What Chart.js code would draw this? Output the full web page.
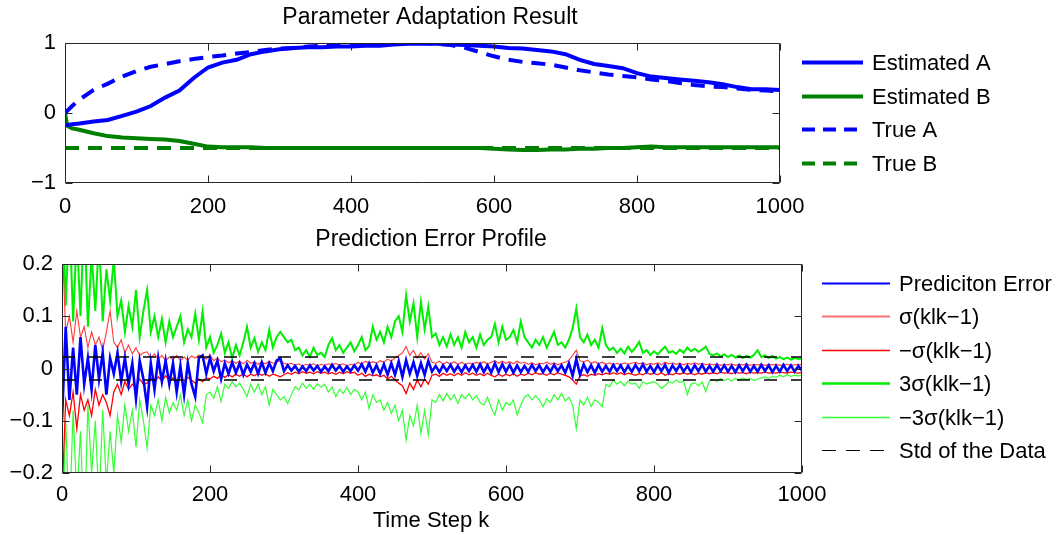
<!DOCTYPE html>
<html>
<head>
<meta charset="utf-8">
<script src="https://cdn.jsdelivr.net/npm/chart.js@4.4.1/dist/chart.umd.min.js"></script>
<style>
  html, body { margin: 0; padding: 0; background: #fff; }
  #wrap { position: relative; width: 1061px; height: 535px; overflow: hidden; }
  canvas { position: absolute; left: 0; }
  #paramChart { top: 0; }
  #errChart { top: 220px; }
</style>
</head>
<body>
<div id="wrap">
  <canvas id="paramChart" width="1061" height="220"></canvas>
  <canvas id="errChart" width="1061" height="315"></canvas>
</div>
<script>
// ---- top panel: parameter estimates vs truth ----
const topSteps = [0, 3, 10, 20, 40, 60, 80, 100, 120, 140, 160, 180, 200, 220, 240, 260, 280, 300, 320, 340,
  360, 380, 400, 420, 440, 460, 480, 500, 520, 540, 560, 580, 600, 620, 640, 660, 680, 700, 720, 740,
  760, 780, 800, 820, 840, 860, 880, 900, 920, 940, 960, 980, 1000];
const estA = [-.17, -.17, -.16, -.15, -.12, -.1, -.04, .02, .1, .22, .32, .5, .65, .72, .76, .84, .88, .91, .93, .94,
  .94, .95, .95, .96, .96, .98, .99, .99, .99, .98, .97, .96, .95, .93, .92, .9, .88, .84, .76, .7,
  .67, .64, .57, .52, .5, .48, .46, .44, .41, .37, .34, .34, .33];
const trueA = [0, .03, .1, .19, .33, .42, .52, .6, .66, .7, .74, .77, .8, .82, .85, .87, .9, .92, .93, .95,
  .96, .97, .97, .98, .99, .99, 1, 1, .99, .97, .93, .87, .81, .76, .73, .71, .69, .65, .61, .58,
  .55, .53, .51, .48, .46, .43, .4, .38, .37, .35, .33, .32, .31];
const estB = [0, -.18, -.22, -.24, -.29, -.33, -.35, -.36, -.37, -.38, -.4, -.44, -.48, -.49, -.49, -.49, -.5, -.5, -.5, -.5,
  -.5, -.5, -.5, -.5, -.5, -.5, -.5, -.5, -.5, -.5, -.5, -.5, -.51, -.52, -.53, -.53, -.52, -.52, -.51, -.51,
  -.5, -.5, -.49, -.48, -.49, -.49, -.49, -.49, -.49, -.49, -.49, -.49, -.49];
const trueBSteps = [0, 1000];
const trueB = [-.5, -.5];

// ---- bottom panel: prediction error and its bounds, one value every 5 steps ----
const errSteps = Array.from({ length: 201 }, (_, i) => i * 5);
const predErr = [
  -.1, .08, -.06, .04, -.05, .06, -.03, .02, -.04, .045,
  -.02, .03, -.05, .02, -.01, .03, -.025, .02, -.03, .01,
  -.058, .015, -.02, -.073, .01, -.04, .02, -.025, .015, -.03,
  .01, -.045, .005, -.05, .01, -.03, -.054, .02, .025, -.01,
  .02, -.005, .015, -.02, .01, -.01, .012, -.008, .01, -.012,
  .008, -.006, .01, -.01, .012, -.008, .01, -.005, .015, .02,
  -.005, .006, -.004, .005, -.006, .004, -.005, .006, -.004, .005,
  -.006, .004, -.005, .007, -.004, .005, -.006, .004, -.005, .006,
  -.004, .008, -.006, .01, -.008, .006, -.01, .008, -.012, .01,
  -.012, .014, -.016, .016, -.01, .012, -.014, .01, -.012, .015,
  -.006, .005, -.007, .006, -.005, .007, -.006, .005, -.007, .006,
  -.005, .007, -.006, .008, -.007, .006, -.008, .01, -.007, .008,
  -.006, .007, -.008, .006, -.007, .005, -.006, .007, -.005, .006,
  -.007, .005, -.006, .007, -.005, .006, -.008, .01, -.014, .018,
  -.012, .008, -.007, .006, -.008, .007, -.006, .005, -.006, .007,
  -.005, .006, -.007, .005, -.006, .007, -.005, .008, -.006, .005,
  -.007, .006, -.005, .007, -.008, .006, -.005, .007, -.006, .005,
  -.007, .006, -.005, .007, -.006, .005, -.006, .007, -.005, .006,
  -.006, .005, -.007, .006, -.005, .007, -.006, .005, -.006, .007,
  -.005, .006, -.007, .005, -.006, .007, -.005, .006, -.006, .005,
  -.004];
const sigPlus = [
  .25, .07, .1, .05, .11, .06, .08, .04, .07, .045,
  .06, .035, .07, .11, .05, .04, .055, .03, .045, .028,
  .04, .025, .03, .032, .02, .028, .018, .025, .015, .022,
  .017, .025, .015, .022, .016, .024, .02, .026, .022, .018,
  .026, .015, .02, .013, .016, .011, .015, .01, .014, .009,
  .016, .01, .013, .008, .012, .009, .014, .01, .012, .015,
  .01, .008, .01, .006, .009, .005, .008, .006, .009, .005,
  .008, .006, .009, .007, .01, .006, .009, .005, .008, .006,
  .012, .008, .014, .01, .013, .01, .015, .012, .018, .014,
  .02, .025, .03, .042, .025, .035, .02, .03, .018, .028,
  .012, .01, .014, .008, .012, .009, .013, .008, .012, .007,
  .011, .008, .012, .009, .013, .008, .012, .015, .01, .014,
  .01, .013, .009, .014, .01, .012, .008, .011, .007, .01,
  .009, .012, .008, .011, .007, .01, .012, .016, .025, .035,
  .015, .012, .016, .01, .013, .009, .012, .008, .011, .007,
  .01, .007, .011, .008, .01, .012, .009, .011, .007, .01,
  .008, .011, .007, .012, .009, .011, .008, .01, .007, .01,
  .008, .011, .008, .01, .007, .009, .007, .009, .006, .008,
  .007, .009, .006, .008, .007, .009, .006, .008, .007, .008,
  .006, .008, .007, .008, .006, .007, .008, .006, .007, .008,
  .007];
const sigMinus = [
  -.25, -.06, -.09, -.045, -.115, -.05, -.08, -.06, -.09, -.04,
  -.07, -.05, -.065, -.09, -.045, -.03, -.05, -.025, -.04, -.03,
  -.035, -.02, -.03, -.028, -.018, -.026, -.016, -.024, -.014, -.022,
  -.018, -.026, -.015, -.024, -.017, -.022, -.028, -.02, -.025, -.018,
  -.02, -.015, -.019, -.012, -.017, -.012, -.016, -.011, -.015, -.01,
  -.016, -.011, -.014, -.009, -.013, -.01, -.015, -.011, -.013, -.016,
  -.012, -.008, -.011, -.007, -.01, -.006, -.009, -.007, -.01, -.006,
  -.009, -.007, -.01, -.008, -.011, -.007, -.01, -.006, -.009, -.007,
  -.013, -.009, -.015, -.011, -.014, -.012, -.016, -.013, -.02, -.015,
  -.022, -.028, -.033, -.048, -.028, -.04, -.022, -.035, -.02, -.03,
  -.013, -.011, -.015, -.009, -.013, -.01, -.014, -.009, -.013, -.008,
  -.012, -.009, -.013, -.01, -.014, -.009, -.013, -.016, -.011, -.015,
  -.011, -.014, -.01, -.015, -.011, -.013, -.009, -.012, -.008, -.011,
  -.01, -.013, -.009, -.012, -.008, -.011, -.013, -.016, -.022, -.03,
  -.014, -.012, -.015, -.011, -.013, -.01, -.012, -.009, -.011, -.008,
  -.011, -.008, -.012, -.009, -.011, -.013, -.01, -.012, -.008, -.011,
  -.009, -.012, -.008, -.013, -.01, -.012, -.009, -.011, -.008, -.011,
  -.009, -.012, -.009, -.011, -.008, -.01, -.008, -.01, -.007, -.009,
  -.008, -.01, -.007, -.009, -.008, -.01, -.007, -.009, -.008, -.009,
  -.007, -.009, -.008, -.009, -.007, -.008, -.009, -.007, -.008, -.009,
  -.008];
const sig3Plus = [
  .35, .12, .3, .09, .26, .1, .3, .08, .22, .11,
  .25, .09, .19, .13, .21, .1, .13, .07, .12, .08,
  .15, .06, .11, .15, .07, .1, .06, .095, .05, .09,
  .06, .08, .1, .05, .075, .06, .105, .055, .109, .04,
  .06, .03, .045, .067, .03, .05, .02, .045, .025, .05,
  .08, .04, .058, .032, .05, .035, .074, .04, .06, .07,
  .06, .05, .055, .035, .04, .025, .035, .022, .04, .026,
  .03, .022, .045, .058, .035, .045, .03, .04, .05, .033,
  .045, .06, .035, .043, .08, .055, .07, .05, .08, .06,
  .09, .1, .07, .14, .09, .125, .06, .128, .075, .118,
  .06, .067, .045, .06, .042, .065, .045, .06, .04, .07,
  .05, .06, .04, .065, .045, .055, .06, .085, .05, .08,
  .055, .06, .074, .05, .09, .06, .05, .04, .055, .045,
  .06, .04, .055, .07, .045, .05, .04, .055, .077, .115,
  .06, .05, .065, .045, .055, .04, .077, .045, .035, .04,
  .03, .038, .029, .042, .032, .04, .051, .03, .035, .026,
  .033, .027, .035, .042, .03, .033, .028, .036, .03, .04,
  .033, .038, .032, .036, .042, .028, .025, .029, .023, .027,
  .022, .026, .021, .025, .02, .024, .021, .026, .035, .022,
  .025, .02, .024, .019, .022, .018, .021, .017, .02, .018,
  .019];
const sig3Minus = [
  -.35, -.1, -.3, -.08, -.25, -.12, -.32, -.07, -.2, -.1,
  -.26, -.08, -.22, -.12, -.2, -.09, -.14, -.07, -.12, -.08,
  -.15, -.06, -.1, -.152, -.07, -.09, -.06, -.1, -.055, -.085,
  -.065, -.08, -.05, -.09, -.06, -.1, -.07, -.085, -.104, -.05,
  -.045, -.057, -.035, -.063, -.03, -.038, -.025, -.035, -.028, -.04,
  -.054, -.03, -.045, -.03, -.05, -.035, -.07, -.04, -.05, -.06,
  -.054, -.067, -.05, -.035, -.041, -.028, -.038, -.03, -.04, -.029,
  -.036, -.03, -.045, -.035, -.054, -.04, -.048, -.036, -.05, -.04,
  -.045, -.06, -.045, -.077, -.05, -.065, -.06, -.08, -.065, -.086,
  -.07, -.1, -.08, -.137, -.09, -.11, -.07, -.124, -.08, -.127,
  -.06, -.065, -.05, -.062, -.048, -.06, -.05, -.067, -.05, -.058,
  -.048, -.06, -.052, -.065, -.07, -.055, -.075, -.089, -.06, -.08,
  -.065, -.07, -.06, -.089, -.07, -.055, -.05, -.06, -.052, -.06,
  -.073, -.058, -.065, -.05, -.06, -.048, -.062, -.055, -.07, -.115,
  -.06, -.07, -.055, -.073, -.06, -.065, -.073, -.03, -.035, -.022,
  -.03, -.025, -.033, -.024, -.03, -.028, -.038, -.025, -.03, -.027,
  -.025, -.03, -.038, -.033, -.025, -.028, -.022, -.027, -.024, -.05,
  -.03, -.027, -.033, -.026, -.044, -.024, -.021, -.025, -.019, -.023,
  -.02, -.024, -.019, -.022, -.018, -.021, -.019, -.023, -.02, -.018,
  -.016, -.019, -.015, -.017, -.013, -.016, -.012, -.015, -.013, -.014,
  -.013];
const stdSteps = [0, 1000];
const stdPlus = [.022, .022];
const stdMinus = [-.022, -.022];

const xTicks = [0, 200, 400, 600, 800, 1000];

const FONT = '"Liberation Sans", Arial, Helvetica, sans-serif';
Chart.defaults.font.family = FONT;
Chart.defaults.font.size = 22;
Chart.defaults.color = '#000';

function pts(steps, vals) { return steps.map((k, i) => ({ x: k, y: vals[i] })); }
function fmt(v) { return String(Math.round(v * 10) / 10).replace('-', '\u2212'); }

// MATLAB-ish box: frame with inward ticks, title, legend on the right
const matlabFrame = {
  id: 'matlabFrame',
  afterDraw(chart, args, o) {
    const { ctx, chartArea: a, scales } = chart;
    const L = Math.round(a.left) + 0.5, R = Math.round(a.right) - 0.5;
    const T = Math.round(a.top) + 0.5, B = Math.round(a.bottom) - 0.5;
    ctx.save();
    ctx.strokeStyle = '#262626';
    ctx.lineWidth = 1;
    ctx.beginPath();
    ctx.rect(L, T, R - L, B - T);
    scales.x.ticks.forEach(t => {
      const p = Math.round(scales.x.getPixelForValue(t.value)) + 0.5;
      ctx.moveTo(p, B); ctx.lineTo(p, B - 7);
      ctx.moveTo(p, T); ctx.lineTo(p, T + 7);
    });
    scales.y.ticks.forEach(t => {
      const p = Math.round(scales.y.getPixelForValue(t.value)) + 0.5;
      ctx.moveTo(L, p); ctx.lineTo(L + 7, p);
      ctx.moveTo(R, p); ctx.lineTo(R - 7, p);
    });
    ctx.stroke();

    ctx.fillStyle = '#000';
    ctx.textAlign = 'center';
    ctx.textBaseline = 'middle';
    ctx.font = '23px ' + FONT;
    ctx.fillText(o.title, o.titleX, o.titleY);
    if (o.xTitle) { ctx.font = '22px ' + FONT; ctx.fillText(o.xTitle, o.titleX, o.xTitleY); }

    ctx.textAlign = 'left';
    ctx.font = '22px ' + FONT;
    o.legendOrder.forEach((di, row) => {
      const ds = chart.data.datasets[di];
      const ly = Math.round(o.legendY + row * o.legendStep) + 0.5;
      ctx.strokeStyle = ds.legendColor || ds.borderColor;
      ctx.lineWidth = ds.legendWidth || ds.borderWidth;
      ctx.setLineDash(ds.legendDash || ds.borderDash || []);
      ctx.beginPath();
      ctx.moveTo(o.legendX, ly);
      ctx.lineTo(o.legendX + o.legendLen, ly);
      ctx.stroke();
      ctx.setLineDash([]);
      ctx.fillText(ds.label, o.legendX + o.legendLen + 9, ly + 1);
    });
    ctx.restore();
  }
};

function scalesFor(yMin, yMax, yStep, yWidth, xHeight, xPad) {
  return {
    x: {
      type: 'linear', min: 0, max: 1000,
      afterBuildTicks: s => { s.ticks = xTicks.map(v => ({ value: v })); },
      afterFit: s => { s.height = xHeight; },
      grid: { display: false }, border: { display: false },
      ticks: { padding: xPad, maxRotation: 0, callback: v => String(v) }
    },
    y: {
      type: 'linear', min: yMin, max: yMax,
      afterFit: s => { s.width = yWidth; },
      grid: { display: false }, border: { display: false },
      ticks: { stepSize: yStep, padding: 1, callback: fmt }
    }
  };
}

const lineBase = { pointRadius: 0, tension: 0, fill: false };

new Chart(document.getElementById('paramChart'), {
  type: 'line',
  data: {
    datasets: [
      Object.assign({ label: 'Estimated A', data: pts(topSteps, estA), borderColor: '#0000ff', borderWidth: 4 }, lineBase),
      Object.assign({ label: 'True A', data: pts(topSteps, trueA), borderColor: '#0000ff', borderWidth: 4, borderDash: [14, 9], legendDash: [13, 8] }, lineBase),
      Object.assign({ label: 'Estimated B', data: pts(topSteps, estB), borderColor: '#008000', borderWidth: 4 }, lineBase),
      Object.assign({ label: 'True B', data: pts(trueBSteps, trueB), borderColor: '#008000', borderWidth: 4, borderDash: [14, 9], legendDash: [13, 8] }, lineBase)
    ]
  },
  options: {
    responsive: false, animation: false, devicePixelRatio: 1,
    layout: { padding: { left: 0, right: 1061 - 780, top: 43, bottom: 0 } },
    scales: scalesFor(-1, 1, 1, 65, 37, 3),
    plugins: {
      legend: { display: false }, tooltip: { enabled: false },
      matlabFrame: {
        title: 'Parameter Adaptation Result', titleX: 430, titleY: 18,
        legendOrder: [0, 2, 1, 3], legendX: 802, legendY: 62, legendStep: 33.5, legendLen: 61
      }
    }
  },
  plugins: [matlabFrame]
});

new Chart(document.getElementById('errChart'), {
  type: 'line',
  data: {
    datasets: [
      Object.assign({ label: 'Std of the Data', data: pts(stdSteps, stdPlus), borderColor: '#000', borderWidth: 1.4, borderDash: [13, 14], legendDash: [14, 10], legendWidth: 1.2 }, lineBase),
      Object.assign({ label: 'Std of the Data', data: pts(stdSteps, stdMinus), borderColor: '#000', borderWidth: 1.4, borderDash: [13, 14] }, lineBase),
      Object.assign({ label: 'Prediciton Error', data: pts(errSteps, predErr), borderColor: '#0000ff', borderWidth: 2.6, legendWidth: 2 }, lineBase),
      Object.assign({ label: '\u2212\u03c3(klk\u22121)', data: pts(errSteps, sigMinus), borderColor: '#ff0000', borderWidth: 1.3 }, lineBase),
      Object.assign({ label: '\u03c3(klk\u22121)', data: pts(errSteps, sigPlus), borderColor: '#ff3a3a', borderWidth: 1.1, legendWidth: 2, legendColor: '#ff7070' }, lineBase),
      Object.assign({ label: '3\u03c3(klk\u22121)', data: pts(errSteps, sig3Plus), borderColor: '#00ee00', borderWidth: 2, legendWidth: 2.5 }, lineBase),
      Object.assign({ label: '\u22123\u03c3(klk\u22121)', data: pts(errSteps, sig3Minus), borderColor: '#33ff33', borderWidth: 1.2, legendWidth: 1.5 }, lineBase)
    ]
  },
  options: {
    responsive: false, animation: false, devicePixelRatio: 1,
    layout: { padding: { left: 0, right: 1061 - 802, top: 44, bottom: 0 } },
    scales: scalesFor(-0.2, 0.2, 0.1, 62, 62, 1),
    plugins: {
      legend: { display: false }, tooltip: { enabled: false },
      matlabFrame: {
        title: 'Prediction Error Profile', titleX: 431, titleY: 20,
        xTitle: 'Time Step k', xTitleY: 301,
        legendOrder: [2, 4, 3, 5, 6, 0], legendX: 822, legendY: 63, legendStep: 33.4, legendLen: 68
      }
    }
  },
  plugins: [matlabFrame]
});
</script>
</body>
</html>
